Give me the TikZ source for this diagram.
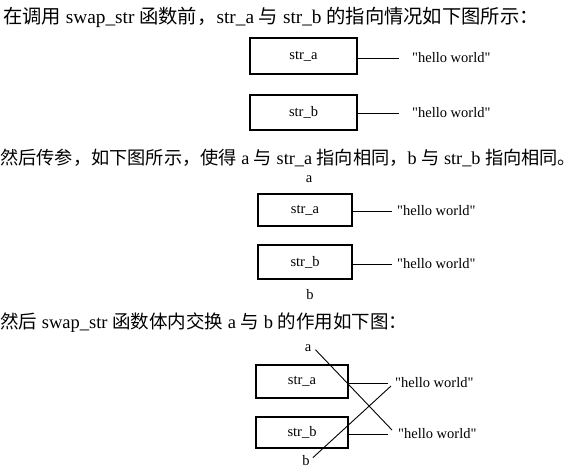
\documentclass[tikz,border=0pt]{standalone}
\usepackage{fontspec}
\setmainfont{Liberation Serif}
\newfontfamily\zhfont{Noto Sans CJK SC}
\newfontfamily\rawserif{Liberation Serif}
\newcommand{\zh}[1]{{\zhfont #1}}
\newcommand{\hw}{{\rawserif "hello world"}}
\begin{document}
\begin{tikzpicture}[x=1pt,y=-1pt,
  body/.style={anchor=base west, inner sep=0pt, font=\fontsize{18.5}{22}\selectfont},
  ptr/.style={draw, line width=1.6pt, inner sep=0pt, font=\fontsize{14.5}{16}\selectfont},
  lbl/.style={inner sep=0pt, font=\fontsize{14.5}{16}\selectfont},
  str/.style={anchor=west, inner sep=0pt, font=\fontsize{14.5}{16}\selectfont},
  conn/.style={line width=0.9pt}]
\useasboundingbox[fill=white] (0,0) rectangle (580,474);

% texts
\node[body, font=\fontsize{19.3}{22}\selectfont] (t1) at (3,23) {\zh{在调用} swap\_str \zh{函数前，}str\_a \zh{与} str\_b \zh{的指向情况如下图所示：}};
\node[body, font=\fontsize{18.2}{22}\selectfont] (t2) at (0,164) {\zh{然后传参，如下图所示，使得} a \zh{与} str\_a \zh{指向相同，}b \zh{与} str\_b \zh{指向相同。}};
\node[body] (t3) at (0,328) {\zh{然后} swap\_str \zh{函数体内交换} a \zh{与} b \zh{的作用如下图：}};

% section 1
\node[ptr, minimum width=107pt, minimum height=36pt] (b1) at (303.5,56) {str\_a};
\node[ptr, minimum width=107pt, minimum height=35pt] (b2) at (303.5,112.5) {str\_b};
\node[str] (h1) at (412,58) {\hw};
\node[str] (h2) at (412,113) {\hw};
\draw[conn] (b1.east |- h1.west) -- ([xshift=-13pt]h1.west);
\draw[conn] (b2.east |- h2.west) -- ([xshift=-13pt]h2.west);

% section 2
\node[lbl] (a2) at (309,179) {a};
\node[ptr, minimum width=94pt, minimum height=32pt] (b3) at (305,210) {str\_a};
\node[ptr, minimum width=94pt, minimum height=34pt] (b4) at (305,262) {str\_b};
\node[lbl] (bb2) at (310,295) {b};
\node[str] (h3) at (397,211) {\hw};
\node[str] (h4) at (397,264) {\hw};
\draw[conn] (b3.east |- h3.west) -- ([xshift=-5pt]h3.west);
\draw[conn] (b4.east |- h4.west) -- ([xshift=-5pt]h4.west);

% section 3
\node[lbl] (a3) at (308,348) {a};
\node[ptr, minimum width=92pt, minimum height=33pt] (b5) at (302,381.5) {str\_a};
\node[ptr, minimum width=92pt, minimum height=31pt] (b6) at (302,432.5) {str\_b};
\node[lbl] (bb3) at (306,461) {b};
\node[str] (h5) at (395,383) {\hw};
\node[str] (h6) at (398,434) {\hw};
\draw[conn] (b5.east |- h5.west) -- ([xshift=-7pt]h5.west);
\draw[conn] (b6.east |- h6.west) -- ([xshift=-10pt]h6.west);
\coordinate (ae) at (392,430);
\coordinate (be) at (391,386);
\draw[conn] ([xshift=4pt,yshift=2pt]a3.south east) -- (ae);
\draw[conn] ([xshift=3pt,yshift=-2pt]bb3.north east) -- (be);
\end{tikzpicture}
\end{document}
